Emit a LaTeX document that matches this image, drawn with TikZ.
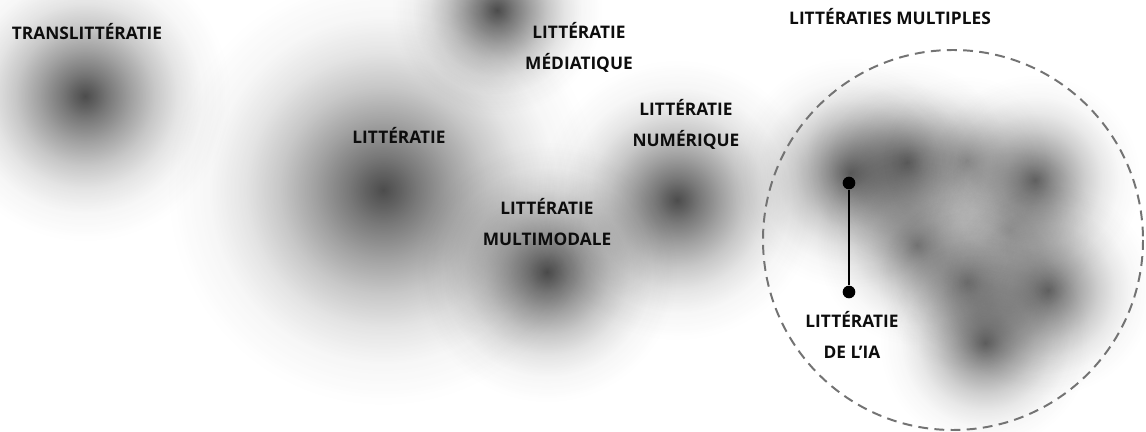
\documentclass[tikz,border=0pt]{standalone}
\usepackage{fontspec}
\setmainfont{Open Sans}
\usetikzlibrary{fadings}

% Profil doux pour les taches floues (coeur marque, halo large)
\pgfdeclareradialshading{flouprofil}{\pgfpointorigin}{%
  color(0bp)=(transparent!0); color(2bp)=(transparent!12);
  color(4bp)=(transparent!25); color(8bp)=(transparent!48);
  color(12bp)=(transparent!69); color(16bp)=(transparent!85);
  color(20bp)=(transparent!95); color(25bp)=(transparent!100);
  color(50bp)=(transparent!100)}
\pgfdeclarefading{flou}{\pgfuseshading{flouprofil}}

\tikzset{
  etiquette/.style={font=\bfseries\fontsize{12.3}{22}\selectfont, align=center, inner sep=0pt, text=black!95},
  point/.style={circle, fill=black, inner sep=0pt, minimum size=9pt}
}

\begin{document}
\begin{tikzpicture}[x=0.025cm, y=-0.025cm]

        % Cadre
        \useasboundingbox (0,0) rectangle (1146,432);
        \fill[white] (0,0) rectangle (1146,432);

        % Taches floues (x/y/rayon/opacite)
        \foreach \px/\py/\r/\o in {85/96/145/0.7, 497/10/105/0.7, 383/190/215/0.7,
                                   547/272/130/0.7, 677/200/140/0.7} {
            \fill[black, path fading=flou, fill opacity=\o] (\px,\py) circle (\r);
        }

        % Amas des litteraties multiples
        \foreach \px/\py/\r/\o in {850/173/115/0.6, 907/162/100/0.55, 967/160/85/0.35,
                                   1035/180/105/0.6, 917/245/100/0.5, 1010/230/85/0.25,
                                   967/282/90/0.45, 1048/290/105/0.6, 985/343/105/0.6} {
            \fill[black, path fading=flou, fill opacity=\o] (\px,\py) circle (\r);
        }

        % Cercle en tirets
        \draw[black!55, line width=1.4pt, dash pattern=on 7pt off 4.5pt] (953,240) circle (190);

        % Etiquettes
        \node[etiquette] (trans) at (87,32) {TRANSLITTÉRATIE};
        \node[etiquette] (media) at (579,47) {LITTÉRATIE\\MÉDIATIQUE};
        \node[etiquette] (litt) at (399,135) {LITTÉRATIE};
        \node[etiquette] (num) at (686,124) {LITTÉRATIE\\NUMÉRIQUE};
        \node[etiquette] (multi) at (547,222) {LITTÉRATIE\\MULTIMODALE};
        \node[etiquette] (multiples) at (890,17) {LITTÉRATIES MULTIPLES};
        \node[etiquette] (ia) at (852,335) {LITTÉRATIE\\DE L’IA};

        % Segment de l'IA
        \node[point] (iahaut) at (849,183) {};
        \node[point] (iabas) at (849,292) {};
        \draw[line width=1pt] (iahaut) -- (iabas);

\end{tikzpicture}
\end{document}
